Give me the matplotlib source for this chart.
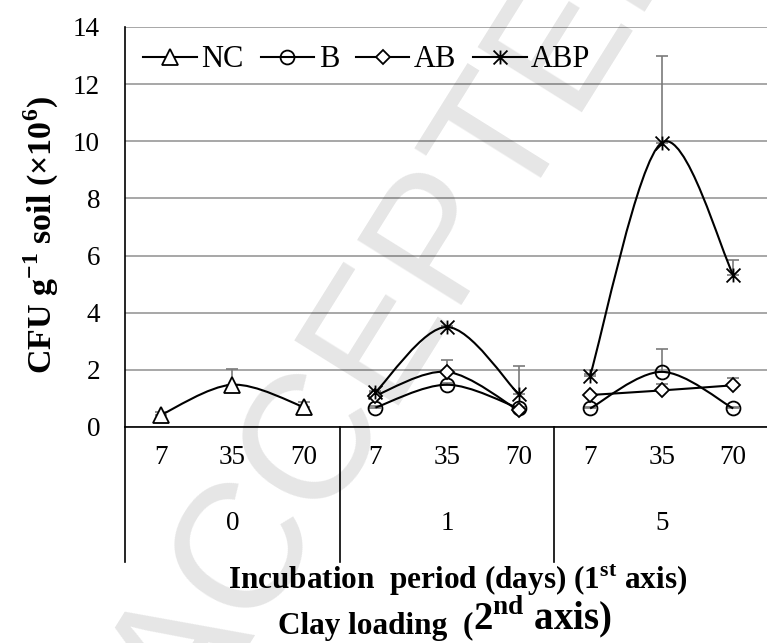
import numpy as np
import matplotlib
matplotlib.use("Agg")
import matplotlib.pyplot as plt
from matplotlib.path import Path
from matplotlib.patches import PathPatch
from matplotlib.lines import Line2D
from matplotlib.transforms import blended_transform_factory

plt.rcParams['font.family'] = ['Liberation Serif', 'DejaVu Serif']
plt.rcParams['mathtext.fontset'] = 'custom'
plt.rcParams['mathtext.rm'] = 'Liberation Serif'
plt.rcParams['mathtext.bf'] = 'Liberation Serif:bold'

# --- data ---
days = ['7', '35', '70']
clay = ['0', '1', '5']

# per series: one list of values / upper errors for each clay-loading group
nc_vals = [[0.42, 1.48, 0.70]]
nc_err = [[0.10, 0.55, 0.18]]
nc_groups = [0]

b_vals = [[0.68, 1.48, 0.66], [0.65, 1.93, 0.65]]
b_err = [[0.05, 0.05, 0.05], [0.05, 0.80, 0.05]]
b_groups = [1, 2]

ab_vals = [[1.10, 1.93, 0.58], [1.12, 1.28, 1.46]]
ab_err = [[0.05, 0.40, 0.05], [0.05, 0.22, 0.27]]
ab_groups = [1, 2]

abp_vals = [[1.22, 3.50, 1.15], [1.80, 9.95, 5.33]]
abp_err = [[0.05, 0.05, 1.00], [0.05, 3.05, 0.50]]
abp_groups = [1, 2]

yticks = [0, 2, 4, 6, 8, 10, 12, 14]

# Excel-like star marker: X with a vertical bar
star = Path([(-1, -1), (1, 1), (-1, 1), (1, -1), (0, -1), (0, 1)],
            [Path.MOVETO, Path.LINETO, Path.MOVETO, Path.LINETO, Path.MOVETO, Path.LINETO])


def smooth(xs, ys):
    """Catmull-Rom style bezier path, similar to Excel smoothed lines."""
    pts = np.column_stack([xs, ys]).astype(float)
    verts, codes = [pts[0]], [Path.MOVETO]
    n = len(pts)
    for i in range(n - 1):
        p0 = pts[i - 1] if i > 0 else pts[i]
        p1, p2 = pts[i], pts[i + 1]
        p3 = pts[i + 2] if i + 2 < n else pts[i + 1]
        verts += [p1 + (p2 - p0) / 6, p2 - (p3 - p1) / 6, p2]
        codes += [Path.CURVE4] * 3
    return Path(verts, codes)


fig = plt.figure(figsize=(7.67, 6.43), dpi=100)
ax = fig.add_axes([125 / 767, 1 - 427 / 643, 644 / 767, 400 / 643])

series = [
    ('NC', nc_vals, nc_err, nc_groups, dict(marker='^', ms=11, mfc='white')),
    ('B', b_vals, b_err, b_groups, dict(marker='o', ms=10, mfc='none')),
    ('AB', ab_vals, ab_err, ab_groups, dict(marker='D', ms=7.5, mfc='white')),
    ('ABP', abp_vals, abp_err, abp_groups, dict(marker=star, ms=10, mfc='none')),
]

handles = []
for name, vals, errs, groups, mk in series:
    for g, v, e in zip(groups, vals, errs):
        x = np.arange(3) + 3 * g
        ax.errorbar(x, v, yerr=[np.zeros(3), e], fmt='none', ecolor='#7a7a7a',
                    elinewidth=1.2, capsize=4.5, capthick=1.2, zorder=2)
        ax.add_patch(PathPatch(smooth(x, v), fill=False, ec='black', lw=1.5, zorder=3))
        ax.plot(x, v, ls='none', color='black', mec='black', mew=1.3, zorder=4, **mk)
    handles.append(Line2D([], [], color='black', lw=1.5, mec='black', mew=1.3, **mk))

ax.legend(handles, [s[0] for s in series], loc='upper left', ncol=4, frameon=False,
          fontsize=22, handlelength=1.75, handletextpad=0.15, columnspacing=0.55,
          borderaxespad=0.2, bbox_to_anchor=(0.0, 1.0))

ax.set_xlim(-0.5, 8.5)
ax.set_ylim(0, 14)
ax.set_yticks(yticks)
ax.tick_params(axis='y', length=0, pad=18, labelsize=19.5)
ax.set_xticks(np.arange(9))
ax.set_xticklabels(days * 3)
ax.tick_params(axis='x', length=0, pad=13, labelsize=19.5)
ax.yaxis.grid(True, color='#a0a0a0', lw=1.3)
ax.set_axisbelow(True)
for s in ['top', 'right']:
    ax.spines[s].set_visible(False)
ax.spines['left'].set_linewidth(1.2)
ax.spines['bottom'].set_linewidth(1.2)

# second level of category axis
tr = blended_transform_factory(ax.transData, ax.transAxes)
for xd in [-0.5, 2.5, 5.5, 8.5]:
    ax.plot([xd, xd], [0, -0.338], transform=tr, color='black', lw=1.2, clip_on=False)
for i, c in enumerate(clay):
    ax.text(3 * i + 1, -0.24, c, transform=tr, ha='center', va='center', fontsize=19.5)

ax.set_ylabel(r'CFU g$^{\mathbf{-1}}$ soil (×10$^{\mathbf{6}}$)', fontsize=24.5, fontweight='bold')
ax.yaxis.set_label_coords(-0.1, 0.48)

cx = 458 / 767
fig.text(cx, 1 - 580 / 643, r'Incubation  period (days) (1$^{\mathbf{st}}$ axis)',
         ha='center', va='center', fontsize=22.5, fontweight='bold')
t1 = fig.text(278 / 767, 1 - 634 / 643, 'Clay loading  (', ha='left', va='baseline',
              fontsize=22.5, fontweight='bold')
ax.annotate(r'2$^{\mathbf{nd}}$ axis)', xy=(1, 0.02), xycoords=t1, ha='left', va='bottom',
            fontsize=28, fontweight='bold', annotation_clip=False)

# watermark
fig.text(410 / 767, 1 - 300 / 643, 'ACCEPTED', rotation=58, ha='center', va='center',
         fontsize=128, family='Liberation Sans', color='black', alpha=0.1, zorder=10)

fig.savefig('out.png', dpi=100)
